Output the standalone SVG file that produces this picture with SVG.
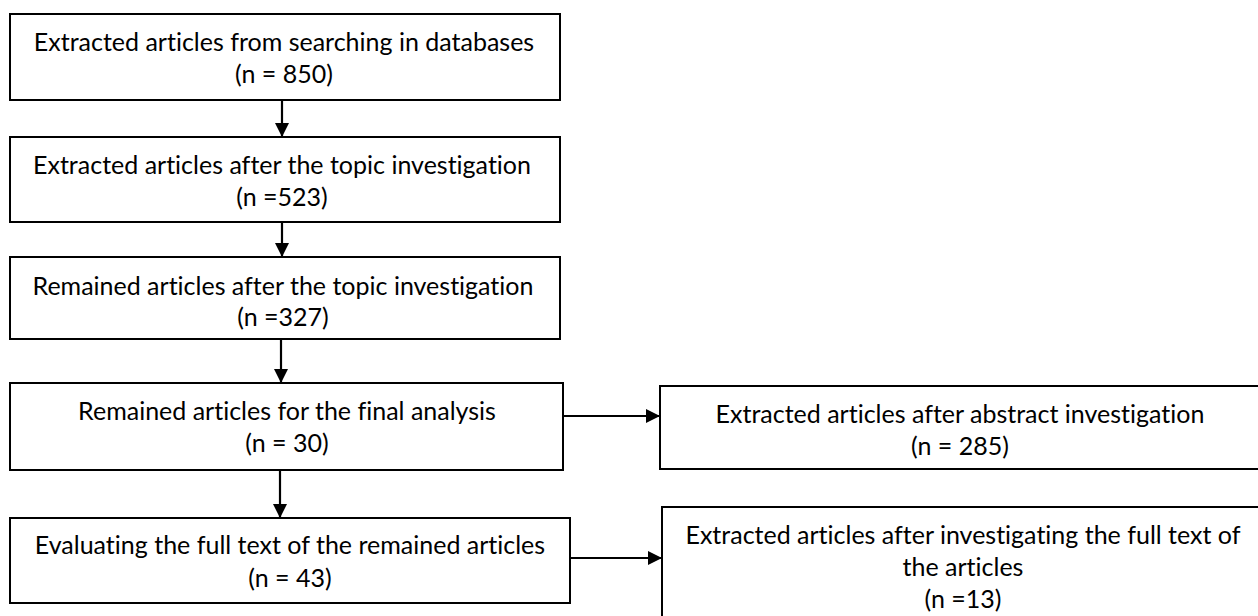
<svg xmlns="http://www.w3.org/2000/svg" width="1258" height="616" viewBox="0 0 1258 616">
<style>
.box{fill:#fff;stroke:#000;stroke-width:2}
.t{font-family:Lato,"Open Sans","DejaVu Sans",sans-serif;font-size:25px;fill:#000;text-anchor:middle;font-variant-ligatures:none;font-feature-settings:"liga" 0,"dlig" 0}
.c{stroke:#000;stroke-width:2.2;fill:none}
</style>
<defs>
<marker id="ah" viewBox="0 0 14 14" refX="14" refY="7" markerWidth="14" markerHeight="14" markerUnits="userSpaceOnUse" orient="auto">
<path d="M0,0 L14,7 L0,14 Z" fill="#000"/>
</marker>
</defs>
<rect width="1258" height="616" fill="#fff"/>
<g id="n1"><rect class="box" x="10" y="14" width="550" height="86"/>
<text class="t" x="284" y="51">Extracted articles from searching in databases</text>
<text class="t" x="284" y="83">(n = 850)</text></g>
<g id="n2"><rect class="box" x="10" y="137" width="550" height="85"/>
<text class="t" x="282" y="174">Extracted articles after the topic investigation</text>
<text class="t" x="282" y="206">(n =523)</text></g>
<g id="n3"><rect class="box" x="10" y="257" width="550" height="82"/>
<text class="t" x="283" y="295">Remained articles after the topic investigation</text>
<text class="t" x="283" y="326">(n =327)</text></g>
<g id="n4"><rect class="box" x="10" y="383" width="553" height="87"/>
<text class="t" x="287" y="420">Remained articles for the final analysis</text>
<text class="t" x="287" y="452">(n = 30)</text></g>
<g id="n5"><rect class="box" x="660" y="386" width="602" height="83"/>
<text class="t" x="960" y="423">Extracted articles after abstract investigation</text>
<text class="t" x="960" y="455">(n = 285)</text></g>
<g id="n6"><rect class="box" x="10" y="518" width="560" height="85"/>
<text class="t" x="290" y="554">Evaluating the full text of the remained articles</text>
<text class="t" x="290" y="587">(n = 43)</text></g>
<g id="n7"><rect class="box" x="662" y="507" width="602" height="130"/>
<text class="t" x="963" y="544">Extracted articles after investigating the full text of</text>
<text class="t" x="963" y="576">the articles</text>
<text class="t" x="963" y="608">(n =13)</text></g>
<g id="connectors">
<line class="c" x1="282" y1="100" x2="282" y2="137" marker-end="url(#ah)"/>
<line class="c" x1="282" y1="222" x2="282" y2="257" marker-end="url(#ah)"/>
<line class="c" x1="281" y1="339" x2="281" y2="383" marker-end="url(#ah)"/>
<line class="c" x1="280" y1="470" x2="280" y2="518" marker-end="url(#ah)"/>
<line class="c" x1="563" y1="416" x2="660" y2="416" marker-end="url(#ah)"/>
<line class="c" x1="570" y1="558" x2="662" y2="558" marker-end="url(#ah)"/>
</g>
</svg>
